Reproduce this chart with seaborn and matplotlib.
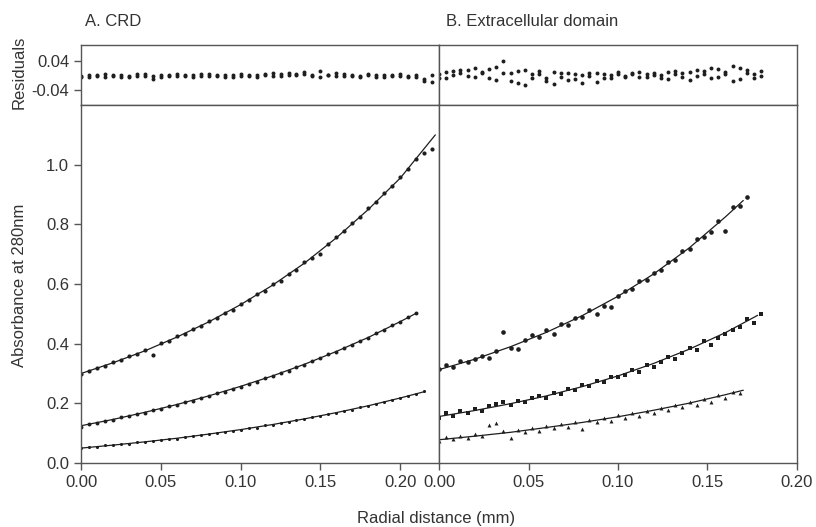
import matplotlib
matplotlib.use("Agg")
import matplotlib.pyplot as plt
import seaborn as sns
from matplotlib.ticker import FormatStrFormatter

sns.set_style("ticks")
plt.rcParams['font.family'] = ['Liberation Sans', 'DejaVu Sans']
plt.rcParams['axes.unicode_minus'] = False

# --- data ---
# A. CRD: radial positions (mm) and absorbance of three loading concentrations
crd_x = [0.000, 0.005, 0.010, 0.015, 0.020, 0.025, 0.030, 0.035, 0.040, 0.045,
         0.050, 0.055, 0.060, 0.065, 0.070, 0.075, 0.080, 0.085, 0.090, 0.095,
         0.100, 0.105, 0.110, 0.115, 0.120, 0.125, 0.130, 0.135, 0.140, 0.145,
         0.150, 0.155, 0.160, 0.165, 0.170, 0.175, 0.180, 0.185, 0.190, 0.195,
         0.200, 0.205, 0.210, 0.215, 0.220]
crd_hi = [0.298, 0.307, 0.319, 0.325, 0.338, 0.344, 0.358, 0.364, 0.378, 0.361,
          0.401, 0.409, 0.425, 0.432, 0.449, 0.458, 0.476, 0.485, 0.504, 0.514,
          0.534, 0.545, 0.566, 0.577, 0.600, 0.611, 0.635, 0.648, 0.673, 0.686,
          0.700, 0.733, 0.757, 0.779, 0.806, 0.826, 0.855, 0.876, 0.906, 0.928,
          0.958, 0.984, 1.018, 1.040, 1.052]
crd_mid = [0.121, 0.131, 0.134, 0.142, 0.145, 0.153, 0.157, 0.165, 0.169, 0.177,
           0.182, 0.190, 0.195, 0.204, 0.209, 0.218, 0.224, 0.234, 0.239, 0.249,
           0.256, 0.266, 0.273, 0.284, 0.291, 0.302, 0.310, 0.322, 0.330, 0.342,
           0.351, 0.364, 0.373, 0.386, 0.396, 0.410, 0.420, 0.435, 0.446, 0.461,
           0.473, 0.489, 0.504]
crd_lo = [0.049, 0.054, 0.055, 0.059, 0.060, 0.064, 0.065, 0.069, 0.070, 0.075,
          0.076, 0.081, 0.082, 0.088, 0.089, 0.095, 0.096, 0.102, 0.103, 0.109,
          0.111, 0.117, 0.119, 0.126, 0.128, 0.135, 0.137, 0.144, 0.147, 0.154,
          0.157, 0.164, 0.168, 0.175, 0.179, 0.187, 0.191, 0.199, 0.204, 0.212,
          0.217, 0.226, 0.231, 0.240]

# fitted curves (A)
crd_fit_hi_x = [0.0, 0.02, 0.04, 0.06, 0.08, 0.10, 0.12, 0.14, 0.16, 0.18, 0.20, 0.222]
crd_fit_hi = [0.300, 0.336, 0.376, 0.422, 0.473, 0.531, 0.596, 0.670, 0.755, 0.850, 0.955, 1.100]
crd_fit_mid_x = [0.0, 0.02, 0.04, 0.06, 0.08, 0.10, 0.12, 0.14, 0.16, 0.18, 0.20, 0.21]
crd_fit_mid = [0.125, 0.146, 0.170, 0.196, 0.225, 0.257, 0.292, 0.331, 0.374, 0.421, 0.474, 0.502]
crd_fit_lo_x = [0.0, 0.02, 0.04, 0.06, 0.08, 0.10, 0.12, 0.14, 0.16, 0.18, 0.20, 0.215]
crd_fit_lo = [0.050, 0.060, 0.071, 0.083, 0.097, 0.112, 0.129, 0.148, 0.169, 0.192, 0.218, 0.239]

# residuals (A)
crd_res1 = [-0.004, 0.002, -0.001, 0.003, -0.002, 0.001, -0.003, 0.004, 0.000, -0.010,
            0.002, -0.001, 0.003, -0.002, 0.001, 0.004, -0.001, 0.002, -0.003, 0.001,
            0.003, -0.002, 0.002, 0.005, -0.001, 0.003, 0.008, 0.002, 0.004, -0.002,
            0.012, 0.001, -0.002, 0.003, 0.000, -0.004, 0.002, 0.001, -0.003, 0.002,
            0.000, -0.004, 0.001, -0.014, -0.018]
crd_res2 = [-0.002, -0.005, 0.001, -0.003, 0.002, -0.004, 0.000, -0.002, 0.003, -0.001,
            -0.004, 0.002, -0.002, 0.001, -0.003, 0.000, 0.003, -0.002, 0.001, -0.004,
            0.000, 0.002, -0.003, 0.001, 0.006, -0.002, 0.001, 0.004, 0.010, 0.001,
            -0.003, 0.002, 0.006, -0.001, 0.002, -0.002, 0.003, -0.004, 0.002, -0.001,
            0.003, -0.002, -0.003, -0.010, 0.002]

# B. Extracellular domain
ecd_x = [0.000, 0.004, 0.008, 0.012, 0.016, 0.020, 0.024, 0.028, 0.032, 0.036,
         0.040, 0.044, 0.048, 0.052, 0.056, 0.060, 0.064, 0.068, 0.072, 0.076,
         0.080, 0.084, 0.088, 0.092, 0.096, 0.100, 0.104, 0.108, 0.112, 0.116,
         0.120, 0.124, 0.128, 0.132, 0.136, 0.140, 0.144, 0.148, 0.152, 0.156,
         0.160, 0.164, 0.168, 0.172, 0.176, 0.180]
ecd_hi = [0.316, 0.329, 0.321, 0.343, 0.337, 0.350, 0.360, 0.352, 0.375, 0.438,
          0.384, 0.381, 0.412, 0.429, 0.421, 0.446, 0.433, 0.466, 0.461, 0.485,
          0.489, 0.512, 0.501, 0.526, 0.522, 0.561, 0.577, 0.585, 0.609, 0.614,
          0.638, 0.646, 0.674, 0.682, 0.711, 0.716, 0.750, 0.757, 0.776, 0.812,
          0.779, 0.858, 0.861, 0.893]
ecd_mid = [0.152, 0.168, 0.158, 0.175, 0.169, 0.182, 0.176, 0.191, 0.198, 0.206,
           0.195, 0.209, 0.203, 0.219, 0.226, 0.218, 0.236, 0.231, 0.247, 0.245,
           0.261, 0.258, 0.274, 0.272, 0.288, 0.290, 0.296, 0.311, 0.306, 0.329,
           0.322, 0.339, 0.356, 0.350, 0.368, 0.384, 0.378, 0.408, 0.397, 0.420,
           0.431, 0.446, 0.457, 0.482, 0.470, 0.498]
ecd_lo = [0.074, 0.088, 0.079, 0.091, 0.084, 0.096, 0.089, 0.128, 0.134, 0.106,
          0.084, 0.112, 0.104, 0.118, 0.109, 0.124, 0.117, 0.131, 0.121, 0.137,
          0.113, 0.144, 0.136, 0.151, 0.142, 0.160, 0.152, 0.168, 0.159, 0.176,
          0.169, 0.186, 0.178, 0.193, 0.187, 0.204, 0.196, 0.214, 0.205, 0.227,
          0.219, 0.238, 0.236]

ecd_fit_hi_x = [0.0, 0.02, 0.04, 0.06, 0.08, 0.10, 0.12, 0.14, 0.16, 0.17]
ecd_fit_hi = [0.313, 0.348, 0.390, 0.438, 0.494, 0.559, 0.634, 0.722, 0.825, 0.880]
ecd_fit_mid_x = [0.0, 0.02, 0.04, 0.06, 0.08, 0.10, 0.12, 0.14, 0.16, 0.178]
ecd_fit_mid = [0.156, 0.176, 0.199, 0.225, 0.256, 0.292, 0.334, 0.382, 0.437, 0.495]
ecd_fit_lo_x = [0.0, 0.02, 0.04, 0.06, 0.08, 0.10, 0.12, 0.14, 0.16, 0.17]
ecd_fit_lo = [0.078, 0.090, 0.103, 0.119, 0.136, 0.155, 0.177, 0.201, 0.229, 0.244]

ecd_res1 = [0.004, -0.008, 0.012, 0.006, 0.015, -0.004, 0.010, 0.018, -0.012, 0.040,
            0.008, -0.020, 0.014, -0.006, 0.005, -0.015, 0.010, -0.003, 0.008, -0.010,
            0.002, 0.006, -0.018, 0.004, -0.008, 0.003, -0.002, 0.007, -0.005, 0.004,
            0.001, -0.006, 0.009, 0.003, -0.004, 0.010, -0.002, 0.012, -0.008, 0.018,
            0.005, -0.015, 0.020, 0.008, -0.006, 0.012]
ecd_res2 = [-0.006, 0.010, 0.002, 0.016, -0.002, 0.020, 0.008, -0.006, 0.024, 0.006,
            -0.014, 0.012, -0.025, 0.003, 0.012, -0.008, -0.022, 0.006, -0.012, 0.004,
            -0.020, 0.000, 0.008, -0.006, 0.002, 0.009, -0.004, 0.003, 0.010, -0.003,
            0.006, 0.002, -0.010, 0.012, 0.006, -0.012, 0.016, 0.004, 0.022, -0.004,
            0.010, 0.026, -0.010, 0.014, 0.004, -0.002]

INK = '#1e1e1e'
FRAME = '#555555'
TEXT = '#333333'

fig = plt.figure(figsize=(8.16, 5.27), dpi=100)

# axes boxes (figure fractions)
left_x0, right_x0, w = 0.0993, 0.538, 0.4387
res_y0, res_h = 0.8008, 0.1139
main_y0, main_h = 0.1214, 0.6793

ax_ra = fig.add_axes([left_x0, res_y0, w, res_h])
ax_rb = fig.add_axes([right_x0, res_y0, w, res_h])
ax_a = fig.add_axes([left_x0, main_y0, w, main_h])
ax_b = fig.add_axes([right_x0, main_y0, w, main_h])


def draw_panel(ax, xs, series, fits, sizes):
    for (ys, mk), s in zip(series, sizes):
        sns.scatterplot(x=xs[:len(ys)], y=ys, ax=ax, color=INK, marker=mk,
                        s=s, linewidth=0, legend=False)
    for fx, fy in fits:
        sns.lineplot(x=fx, y=fy, ax=ax, color=INK, lw=0.9, legend=False)


draw_panel(ax_a, crd_x,
           [(crd_hi, 'o'), (crd_mid, 'o'), (crd_lo, 'o')],
           [(crd_fit_hi_x, crd_fit_hi), (crd_fit_mid_x, crd_fit_mid), (crd_fit_lo_x, crd_fit_lo)],
           [9, 8, 5])
draw_panel(ax_b, ecd_x,
           [(ecd_hi, 'o'), (ecd_mid, 's'), (ecd_lo, '^')],
           [(ecd_fit_hi_x, ecd_fit_hi), (ecd_fit_mid_x, ecd_fit_mid), (ecd_fit_lo_x, ecd_fit_lo)],
           [11, 9, 8])

for ax, xs, r1, r2 in [(ax_ra, crd_x, crd_res1, crd_res2), (ax_rb, ecd_x, ecd_res1, ecd_res2)]:
    sns.scatterplot(x=xs, y=r1, ax=ax, color=INK, s=8, linewidth=0, legend=False)
    sns.scatterplot(x=xs, y=r2, ax=ax, color=INK, s=8, linewidth=0, legend=False)

# limits
ax_a.set_xlim(0, 0.2243)
ax_ra.set_xlim(0, 0.2243)
ax_b.set_xlim(0, 0.20)
ax_rb.set_xlim(0, 0.20)
for ax in (ax_a, ax_b):
    ax.set_ylim(0, 1.2)
for ax in (ax_ra, ax_rb):
    ax.set_ylim(-0.081, 0.084)

# ticks & frames
for ax in (ax_a, ax_b, ax_ra, ax_rb):
    ax.set_xlabel('')
    ax.set_ylabel('')
    for sp in ax.spines.values():
        sp.set_visible(True)
        sp.set_color(FRAME)
        sp.set_linewidth(1.0)
    ax.tick_params(colors=FRAME, labelcolor=TEXT, length=5, width=1, labelsize=12)

ax_a.set_xticks([0.0, 0.05, 0.10, 0.15, 0.20])
ax_b.set_xticks([0.0, 0.05, 0.10, 0.15, 0.20])
ax_a.xaxis.set_major_formatter(FormatStrFormatter('%.2f'))
ax_b.xaxis.set_major_formatter(FormatStrFormatter('%.2f'))
ax_a.set_yticks([0.0, 0.2, 0.4, 0.6, 0.8, 1.0])
ax_a.yaxis.set_major_formatter(FormatStrFormatter('%.1f'))
ax_b.tick_params(left=False, labelleft=False)

ax_ra.set_yticks([-0.04, 0.04])
ax_ra.set_yticklabels(['-0.04', '0.04'])
ax_ra.tick_params(bottom=False, labelbottom=False)
ax_rb.tick_params(bottom=False, labelbottom=False, left=False, labelleft=False)

# texts
fig.text(0.104, 0.959, 'A. CRD', fontsize=12, color=TEXT, ha='left', va='center')
fig.text(0.547, 0.959, 'B. Extracellular domain', fontsize=12, color=TEXT, ha='left', va='center')
fig.text(0.024, 0.863, 'Residuals', fontsize=12, color=TEXT, rotation=90, ha='center', va='center')
fig.text(0.024, 0.459, 'Absorbance at 280nm', fontsize=12, color=TEXT, rotation=90, ha='center', va='center')
fig.text(0.535, 0.017, 'Radial distance (mm)', fontsize=12, color=TEXT, ha='center', va='center')

fig.savefig('out.png', dpi=100)
